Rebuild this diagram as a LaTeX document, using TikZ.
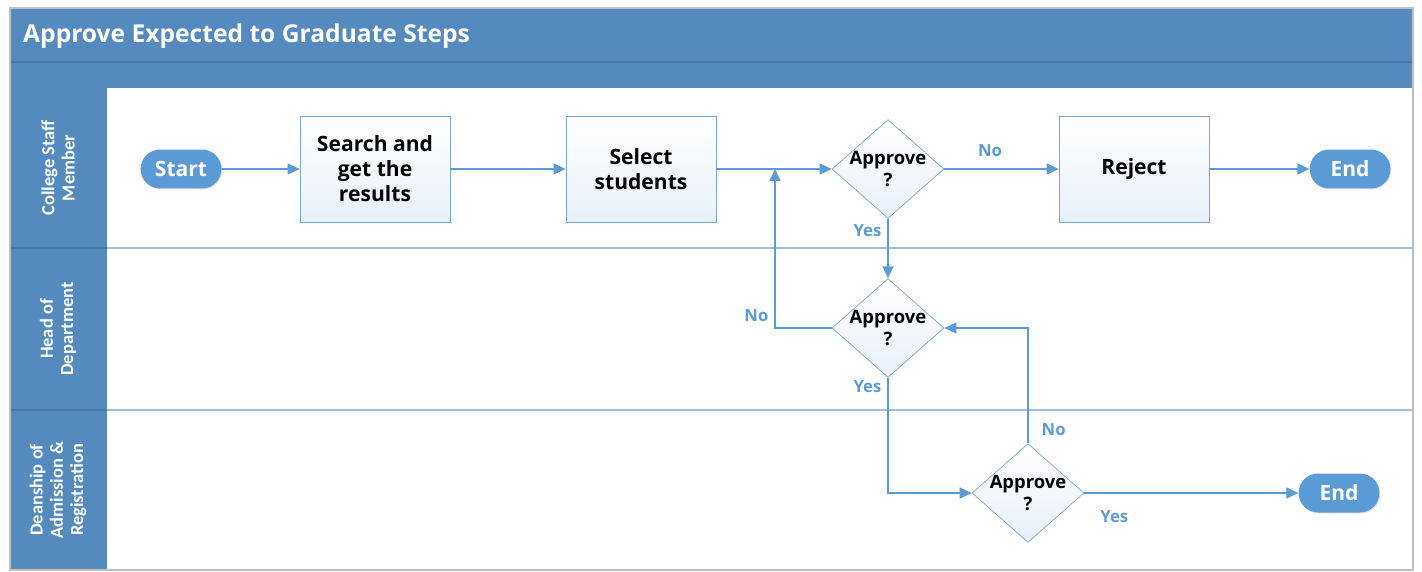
\documentclass[tikz,border=0pt]{standalone}
\usepackage{fontspec}
\setmainfont{Open Sans}
\newfontfamily\lanefont{Carlito}
\usetikzlibrary{shapes.geometric,shapes.misc,arrows.meta,shadows}

\definecolor{hdrblue}{RGB}{85,138,190}
\definecolor{hdrline}{RGB}{70,118,168}
\definecolor{flowblue}{RGB}{91,155,213}
\definecolor{laneline}{RGB}{160,192,224}
\definecolor{boxedge}{RGB}{125,165,210}
\definecolor{boxfill}{RGB}{232,240,250}

\begin{document}
\begin{tikzpicture}[x=0.02cm,y=-0.02cm]
    \tikzstyle{terminal}=[
        rounded rectangle,
        fill=flowblue,
        text=white,
        font=\bfseries\fontsize{12}{14}\selectfont,
        minimum width=1.85cm,
        minimum height=0.78cm,
        drop shadow={opacity=0.25,shadow xshift=0.5pt,shadow yshift=-0.5pt}]
    \tikzstyle{process}=[
        rectangle,
        draw=boxedge,
        top color=white,
        bottom color=boxfill,
        align=center,
        font=\bfseries\fontsize{12}{14.2}\selectfont,
        minimum width=3cm,
        minimum height=2.12cm]
    \tikzstyle{decision}=[
        diamond,
        draw=boxedge,
        top color=white,
        bottom color=boxfill,
        align=center,
        inner xsep=0pt,
        inner ysep=-3.5pt,
        font=\bfseries\fontsize{10.5}{12}\selectfont,
        minimum width=2.24cm,
        minimum height=1.92cm]
    \tikzstyle{flow}=[draw=flowblue, line width=0.9pt, -{Triangle[length=2.4mm,width=2.2mm]}]
    \tikzstyle{answer}=[text=flowblue, font=\bfseries\fontsize{9.5}{11}\selectfont]
    \tikzstyle{lane}=[rotate=90, text=white, align=center, font=\lanefont\bfseries\fontsize{10.5}{11.5}\selectfont]

    \useasboundingbox (0,0) rectangle (1422,571);

    % frame and header
    \fill[white] (10,8) rectangle (1413,570);
    \fill[hdrblue] (10,8) rectangle (1413,88);
    \fill[hdrblue] (10,88) rectangle (107,570);
    \draw[hdrline, line width=0.6pt] (10,62) -- (1413,62);
    \draw[hdrline, line width=0.6pt] (10,248) -- (107,248) (10,410) -- (107,410);
    \draw[laneline, line width=0.9pt] (107,248) -- (1413,248) (107,410) -- (1413,410);
    \draw[gray!50, line width=1pt] (10,8) rectangle (1413,570);
    \node[anchor=west, text=white, font=\bfseries\fontsize{14}{16}\selectfont] (title) at (17,36) {Approve Expected to Graduate Steps};

    % lanes
    \node[lane] (staff) at (58,168) {College Staff\\Member};
    \node[lane] (head) at (58,329) {Head of\\Department};
    \node[lane] (dean) at (58,490) {Deanship of\\Admission \&\\Registration};

    % steps
    \node[terminal] (start) at (181,169) {Start};
    \node[process] (search) at (375,169) {Search and\\get the\\results};
    \node[process] (select) at (641,169) {Select\\students};
    \node[decision] (staffok) at (888,169) {Approve\\?};
    \node[process] (reject) at (1134,169) {Reject};
    \node[terminal] (end1) at (1350,169) {End};
    \node[decision] (headok) at (888,328) {Approve\\?};
    \node[decision] (deanok) at (1028,493) {Approve\\?};
    \node[terminal] (end2) at (1339,493) {End};
    \coordinate (back) at (775,169);

    \draw[flow] (start) -- (search);
    \draw[flow] (search) -- (select);
    \draw[flow] (select) -- (staffok);
    \draw[flow] (reject) -- (end1);
    \draw[flow] (staffok) -- node[answer, above=3pt, pos=0.4] {No} (reject);
    \draw[flow] (staffok) -- node[answer, left, pos=0.2] {Yes} (headok);
    \draw[flow] (headok.west) -| node[answer, above left, pos=0.5] {No} (back);
    \draw[flow] (headok.south) |- node[answer, left, pos=0.04] {Yes} (deanok.west);
    \draw[flow] (deanok.north) |- node[answer, right=4pt, pos=0.06] {No} (headok.east);
    \draw[flow] (deanok) -- node[answer, below=6pt, pos=0.14] {Yes} (end2);
\end{tikzpicture}
\end{document}
